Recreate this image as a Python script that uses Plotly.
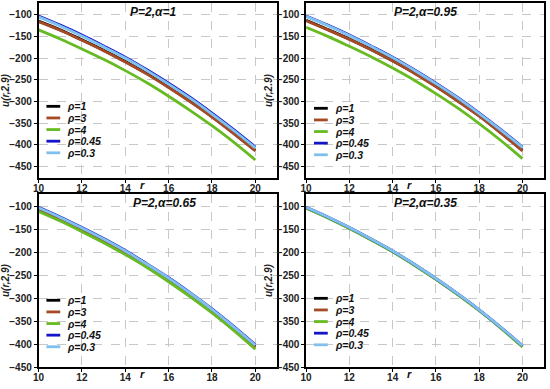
import plotly.graph_objects as go

r = [10, 11, 12, 13, 14, 15, 16, 17, 18, 19, 20]

series_names = ["ρ=1", "ρ=3", "ρ=4", "ρ=0.45", "ρ=0.3"]
series_colors = ["#000000", "#a44a26", "#66bb22", "#1414c8", "#80c0ee"]

panel_titles = ["P=2,α=1", "P=2,α=0.95", "P=2,α=0.65", "P=2,α=0.35"]

# alpha = 1
a1_rho1 = [-115, -135, -158, -182, -208, -236, -267, -300, -335, -373, -413]
a1_rho3 = [-116, -136, -159, -183, -209, -237, -268, -301, -336, -374, -414]
a1_rho4 = [-135, -156, -179, -203, -229, -257, -288, -321, -356, -394, -435]
a1_rho045 = [-103, -124, -147, -172, -198, -227, -258, -291, -327, -365, -405]
a1_rho03 = [-105, -126, -149, -174, -200, -229, -260, -293, -329, -367, -407]

# alpha = 0.95
a2_rho1 = [-113, -134, -156, -180, -206, -234, -265, -298, -333, -372, -413]
a2_rho3 = [-114, -135, -157, -181, -207, -235, -266, -299, -334, -373, -414]
a2_rho4 = [-129, -150, -173, -197, -223, -251, -282, -315, -351, -390, -432]
a2_rho045 = [-103, -124, -147, -172, -198, -227, -258, -291, -327, -365, -405]
a2_rho03 = [-104, -125, -148, -173, -199, -228, -259, -292, -328, -366, -406]

# alpha = 0.65
a3_rho1 = [-107, -128, -151, -175, -201, -229, -260, -293, -328, -366, -406]
a3_rho3 = [-108, -129, -152, -176, -202, -230, -261, -294, -329, -367, -407]
a3_rho4 = [-111, -132, -155, -179, -205, -233, -264, -297, -332, -370, -411]
a3_rho045 = [-102, -123, -146, -170, -196, -225, -255, -288, -323, -361, -401]
a3_rho03 = [-103, -124, -147, -171, -197, -226, -256, -289, -324, -362, -402]

# alpha = 0.35
a4_rho1 = [-103, -124, -147, -172, -198, -227, -258, -291, -326, -364, -404]
a4_rho3 = [-103, -124, -147, -172, -198, -227, -258, -291, -326, -364, -405]
a4_rho4 = [-104, -125, -148, -173, -199, -228, -259, -292, -327, -365, -406]
a4_rho045 = [-102, -123, -146, -171, -197, -226, -257, -290, -325, -363, -403]
a4_rho03 = [-102, -123, -146, -171, -197, -226, -257, -290, -325, -363, -403]

panels = [
    [a1_rho1, a1_rho3, a1_rho4, a1_rho045, a1_rho03],
    [a2_rho1, a2_rho3, a2_rho4, a2_rho045, a2_rho03],
    [a3_rho1, a3_rho3, a3_rho4, a3_rho045, a3_rho03],
    [a4_rho1, a4_rho3, a4_rho4, a4_rho045, a4_rho03],
]

y_ranges = [[-477, -73], [-477, -73], [-450, -73], [-450, -73]]
y_ticks = [-450, -400, -350, -300, -250, -200, -150, -100]
x_ticks = [10, 12, 14, 16, 18, 20]

W, H = 550, 389
# pixel boxes (left, right, top, bottom)
boxes = [(31, 273, 3, 181), (302.5, 544, 3, 181), (31, 273, 197, 373), (302.5, 544, 197, 373)]
title_x = [0.48, 0.5, 0.53, 0.5]
legend_top_px = [108, 110, 305, 303]
legend_step_px = 11.8

FONT = "Liberation Sans, Arial, sans-serif"

fig = go.Figure()
shapes = []
annotations = []

for p in range(4):
    k = "" if p == 0 else str(p + 1)
    xa, ya = "x" + k, "y" + k
    l, rr, t, b = boxes[p]
    for s in range(5):
        fig.add_trace(go.Scatter(
            x=r, y=panels[p][s], mode="lines", name=series_names[s],
            line=dict(color=series_colors[s], width=2.8, shape="spline"),
            xaxis=xa, yaxis=ya, showlegend=False,
        ))
    axis_common = dict(
        showline=True, linecolor="black", linewidth=1.5, mirror=True,
        ticks="outside", ticklen=3, tickcolor="black", tickwidth=1.2,
        showgrid=True, gridcolor="#c8c8c8", griddash="dash", gridwidth=1,
        zeroline=False,
        tickfont=dict(family=FONT, size=10, color="#222222", weight="bold"),
    )
    fig.update_layout(**{
        "xaxis" + k: dict(
            axis_common, domain=[l / W, rr / W], range=[10, 21],
            tickvals=x_ticks, anchor=ya, ticklabelstandoff=-3,
        ),
        "yaxis" + k: dict(
            axis_common, domain=[1 - b / H, 1 - t / H], range=y_ranges[p],
            tickvals=y_ticks, anchor=xa,
            title=dict(text="u(r,2.9)", standoff=2,
                       font=dict(family=FONT, size=10, color="#222222", weight="bold", style="italic")),
        ),
    })
    # panel title
    annotations.append(dict(
        text=panel_titles[p], xref=xa + " domain", yref=ya + " domain",
        x=title_x[p], y=1 - 9 / (b - t), xanchor="center", yanchor="middle",
        showarrow=False,
        font=dict(family=FONT, size=12, color="#111111", weight="bold", style="italic"),
    ))
    # x-axis label "r"
    annotations.append(dict(
        text="r", xref=xa, yref=ya + " domain", x=14.8, y=-7 / (b - t),
        xanchor="center", yanchor="middle", showarrow=False,
        font=dict(family=FONT, size=11, color="#111111", weight="bold", style="italic"),
    ))
    # legend (drawn inside the panel)
    for s in range(5):
        yc = legend_top_px[p] + s * legend_step_px
        ypaper = 1 - yc / H
        shapes.append(dict(
            type="line", xref="paper", yref="paper",
            x0=(l + 8) / W, x1=(l + 22) / W, y0=ypaper, y1=ypaper,
            line=dict(color=series_colors[s], width=2.8),
        ))
        annotations.append(dict(
            text=series_names[s], xref="paper", yref="paper",
            x=(l + 27) / W, y=ypaper, xanchor="left", yanchor="middle",
            showarrow=False,
            font=dict(family=FONT, size=10.5, color="#111111", weight="bold", style="italic"),
        ))

fig.update_layout(
    width=W, height=H, margin=dict(l=0, r=0, t=0, b=0),
    paper_bgcolor="white", plot_bgcolor="white",
    showlegend=False, shapes=shapes, annotations=annotations,
)

fig.write_html(
    "out.html",
    config={"displayModeBar": False},
    post_script="document.body.style.margin='0px';document.body.style.overflow='hidden';",
)
